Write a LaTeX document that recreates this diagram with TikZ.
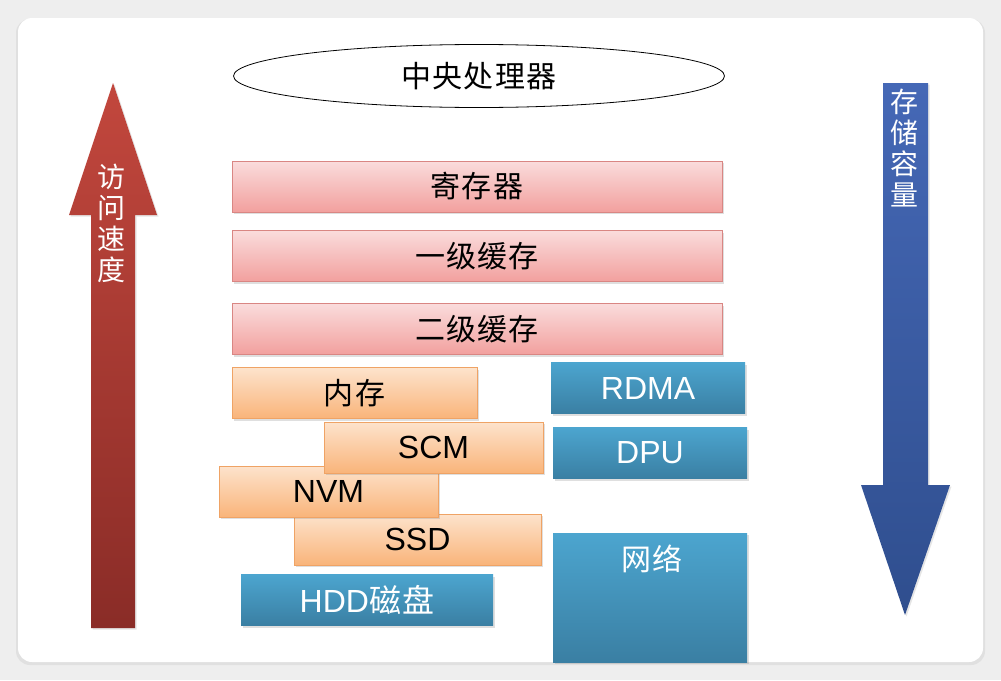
\documentclass[tikz,border=0pt]{standalone}
\usepackage{fontspec}
\setmainfont{Liberation Sans}
\newfontfamily\cjk{Noto Sans CJK SC}
\usetikzlibrary{shapes.geometric,shadows}
\definecolor{pagebg}{HTML}{EEEEEE}
\definecolor{redtop}{HTML}{FADCDC}
\definecolor{redbot}{HTML}{F2A09E}
\definecolor{redline}{HTML}{D98683}
\definecolor{ortop}{HTML}{FDE3CC}
\definecolor{orbot}{HTML}{F9B47A}
\definecolor{orline}{HTML}{EFA365}
\definecolor{bltop}{HTML}{4CA5CF}
\definecolor{blbot}{HTML}{3A7FA3}
\definecolor{arrRtop}{HTML}{C2473D}
\definecolor{arrRbot}{HTML}{8A2C27}
\definecolor{arrBtop}{HTML}{4568B6}
\definecolor{arrBbot}{HTML}{2F4E8E}
\tikzset{
  cjkfont/.style={font=\cjk\fontsize{30}{32}\selectfont\addfontfeature{LetterSpace=4}},
  latinfont/.style={font=\fontsize{32}{34}\selectfont},
  boxshadow/.style={drop shadow={opacity=0.25,shadow xshift=1.5pt,shadow yshift=-2pt}},
  redbox/.style={rectangle, draw=redline, line width=0.8pt, top color=redtop, bottom color=redbot,
     minimum width=490pt, minimum height=51pt, inner sep=0pt, boxshadow, cjkfont},
  orbox/.style={rectangle, draw=orline, line width=0.8pt, top color=ortop, bottom color=orbot,
     minimum height=51pt, inner sep=0pt, boxshadow, latinfont},
  blbox/.style={rectangle, draw=none, top color=bltop, bottom color=blbot, text=white,
     minimum height=51pt, inner sep=0pt, boxshadow, latinfont},
  vtext/.style={text=white, align=center, font=\cjk\fontsize{28}{31}\selectfont, inner sep=0pt},
}
\begin{document}
\begin{tikzpicture}[x=1pt,y=-1pt]
\useasboundingbox (0,0) rectangle (1001,680);
\fill[pagebg] (0,0) rectangle (1001,680);
% card
\fill[black!12, rounded corners=14pt] (16,19) rectangle (985,665);
\fill[white, rounded corners=14pt] (18,18) rectangle (983,662);

% CPU ellipse
\node[ellipse, draw=black, line width=0.8pt, fill=white, minimum width=491pt, minimum height=63pt,
      inner sep=0pt, cjkfont] (cpu) at (479,76) {中央处理器};

% red boxes
\node[redbox] (reg) at (477,186.5) {寄存器};
\node[redbox] (l1) at (477,256) {一级缓存};
\node[redbox] (l2) at (477,329) {二级缓存};

% orange boxes
\node[orbox, minimum width=245pt, cjkfont] (mem) at (354.5,393) {内存};
\node[orbox, minimum width=247pt] (ssd) at (417.5,539.5) {SSD};
\node[orbox, minimum width=219pt] (nvm) at (328.5,491.5) {NVM};
\node[orbox, minimum width=219pt] (scm) at (433.5,447.5) {SCM};

% blue boxes
\node[blbox, minimum width=194pt] (rdma) at (648,388) {RDMA};
\node[blbox, minimum width=194pt] (dpu) at (650,453) {DPU};
\node[blbox, minimum width=252pt] (hdd) at (367,600) {HDD{\cjk\addfontfeature{LetterSpace=4}磁盘}};
\shade[top color=bltop, bottom color=blbot, boxshadow] (553,533) rectangle (747,662);
\node[text=white, cjkfont, inner sep=0pt] (net) at (652,559) {网络};

% red up arrow
\shade[top color=arrRtop, bottom color=arrRbot, drop shadow={opacity=0.2,shadow xshift=1.5pt,shadow yshift=-1.5pt}]
  (113,83) -- (157,215) -- (135,215) -- (135,628) -- (91,628) -- (91,215) -- (69,215) -- cycle;
\node[vtext] (speed) at (111,223) {访\\问\\速\\度};

% blue down arrow
\shade[top color=arrBtop, bottom color=arrBbot, drop shadow={opacity=0.2,shadow xshift=1.5pt,shadow yshift=-1.5pt}]
  (883,83) -- (928,83) -- (928,485) -- (950,485) -- (905,615) -- (861,485) -- (883,485) -- cycle;
\node[vtext] (cap) at (904,148) {存\\储\\容\\量};
\end{tikzpicture}
\end{document}
